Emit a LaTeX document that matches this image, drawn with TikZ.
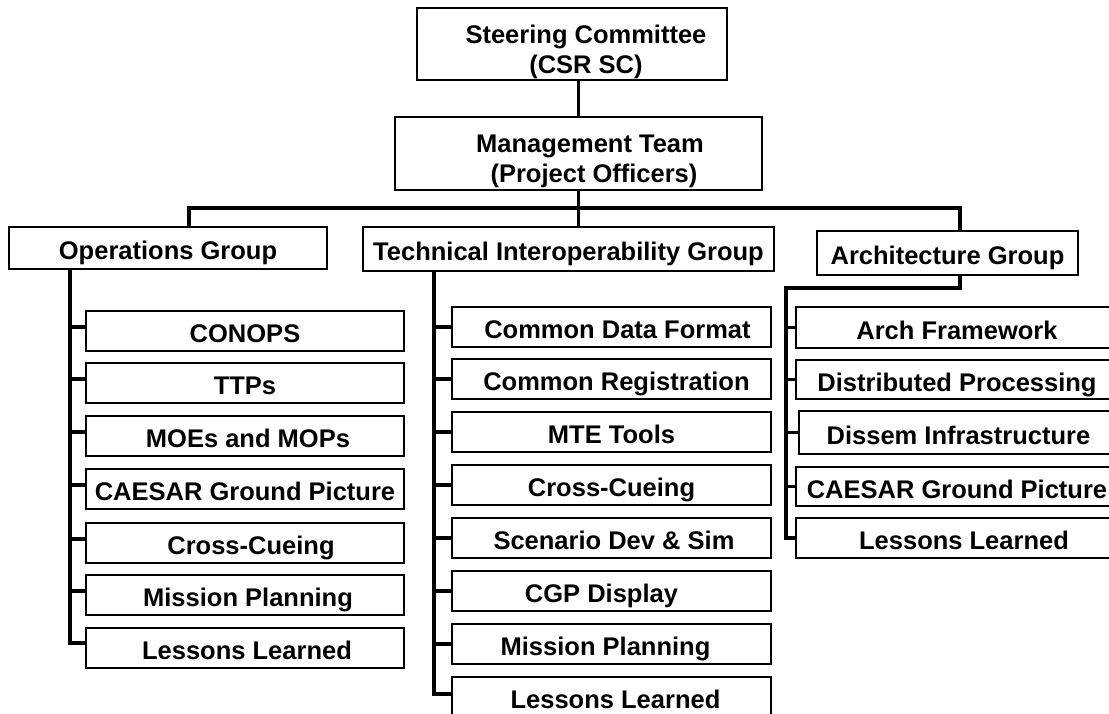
\documentclass[tikz,border=0pt]{standalone}
\usepackage{fontspec}
\setmainfont{Liberation Sans}
\tikzset{
  box/.style={draw=black, line width=1.5pt, fill=white, inner sep=0pt},
  txt/.style={font=\fontsize{25.5}{30}\selectfont\bfseries, align=center, inner sep=0pt},
  onel/.style={text height=23pt, text depth=0pt},
  subbox/.style={box, txt, onel, minimum height=40pt},
  opsbox/.style={subbox, minimum width=318pt},
  techbox/.style={subbox, minimum width=319pt},
  archbox/.style={subbox, minimum width=322pt},
  conn/.style={line width=3.2pt, line join=miter, line cap=rect},
}
\begin{document}
\begin{tikzpicture}[x=1pt,y=-1pt]
\useasboundingbox (0,0) rectangle (1109,714);
\begin{scope}
\clip (0,0) rectangle (1109,714);
% top boxes
\node[box, minimum width=310pt, minimum height=72pt] (sc) at (572,44) {};
\node[txt] (sct) at (586,51.5) {Steering Committee\\(CSR SC)};
\node[box, minimum width=367pt, minimum height=73pt] (mt) at (578.5,153.5) {};
\node[txt] (mtt) at (590,161.5) {Management Team\\\hspace*{8pt}(Project Officers)};
% group boxes
\node[box, txt, onel, minimum width=318pt, minimum height=42pt] (ops) at (168,248) {Operations Group};
\node[box, txt, onel, minimum width=411pt, minimum height=44pt] (tech) at (568.5,249) {Technical Interoperability Group};
\node[box, txt, onel, minimum width=261pt, minimum height=44pt] (arch) at (947.5,253) {Architecture Group};
% operations sub-boxes
\node[opsbox] (o1) at (245,331) {CONOPS};
\node[opsbox] (o2) at (245,383) {TTPs};
\node[opsbox] (o3) at (245,436) {\hspace*{6pt}MOEs and MOPs};
\node[opsbox] (o4) at (245,489) {CAESAR Ground Picture};
\node[opsbox] (o5) at (245,543) {\hspace*{12pt}Cross-Cueing};
\node[opsbox] (o6) at (245,595) {\hspace*{6pt}Mission Planning};
\node[opsbox] (o7) at (245,648) {\hspace*{4pt}Lessons Learned};
% technical sub-boxes
\node[techbox] (t1) at (611.5,327) {\hspace*{12pt}Common Data Format};
\node[techbox] (t2) at (611.5,379) {\hspace*{10pt}Common Registration};
\node[techbox] (t3) at (611.5,432) {MTE Tools};
\node[techbox] (t4) at (611.5,485) {Cross-Cueing};
\node[techbox] (t5) at (611.5,538) {\hspace*{5pt}Scenario Dev \& Sim};
\node[techbox] (t6) at (611.5,591) {CGP Display\hspace*{20pt}};
\node[techbox] (t7) at (611.5,644) {Mission Planning\hspace*{12pt}};
\node[techbox] (t8) at (611.5,697) {\hspace*{8pt}Lessons Learned};
% architecture sub-boxes
\node[archbox, minimum height=41pt] (a1) at (957,327.5) {Arch Framework};
\node[archbox, minimum height=39pt] (a2) at (957,379.5) {Distributed Processing};
\node[archbox, minimum width=319pt, minimum height=43pt] (a3) at (958.5,432.5) {Dissem Infrastructure};
\node[archbox, minimum height=39pt] (a4) at (957,486.5) {CAESAR Ground Picture};
\node[archbox] (a5) at (957,538) {\hspace*{14pt}Lessons Learned};
% trunk coordinates
\coordinate (barL) at (189,208);
\coordinate (barR) at (960,208);
\coordinate (opsx) at (70,0);
\coordinate (techx) at (434,0);
\coordinate (archx) at (786,288);
% connectors
\draw[conn] (sc.south -| mt.north) -- (mt.north);
\draw[conn] (mt.south) -- (mt.south |- tech.north);
\draw[conn] (ops.north -| barL) -- (barL) -- (barR) -- (barR |- arch.north);
\draw[conn] (barR |- arch.south) -- (barR |- archx) -- (archx) |- (a5.west);
\draw[conn] (ops.south -| opsx) |- ([yshift=5pt]o7.west);
\foreach \n in {o1,o2,o3,o4,o5,o6}
  \draw[conn] ([yshift=4pt]\n.west -| opsx) -- ([yshift=4pt]\n.west);
\draw[conn] (tech.south -| techx) |- ([yshift=3pt]t8.west);
\foreach \n in {t1,t2,t3,t4,t5,t6,t7}
  \draw[conn] (\n.west -| techx) -- (\n.west);
\foreach \n in {a1,a2,a3,a4}
  \draw[conn] (\n.west -| archx) -- (\n.west);
\end{scope}
\end{tikzpicture}
\end{document}
